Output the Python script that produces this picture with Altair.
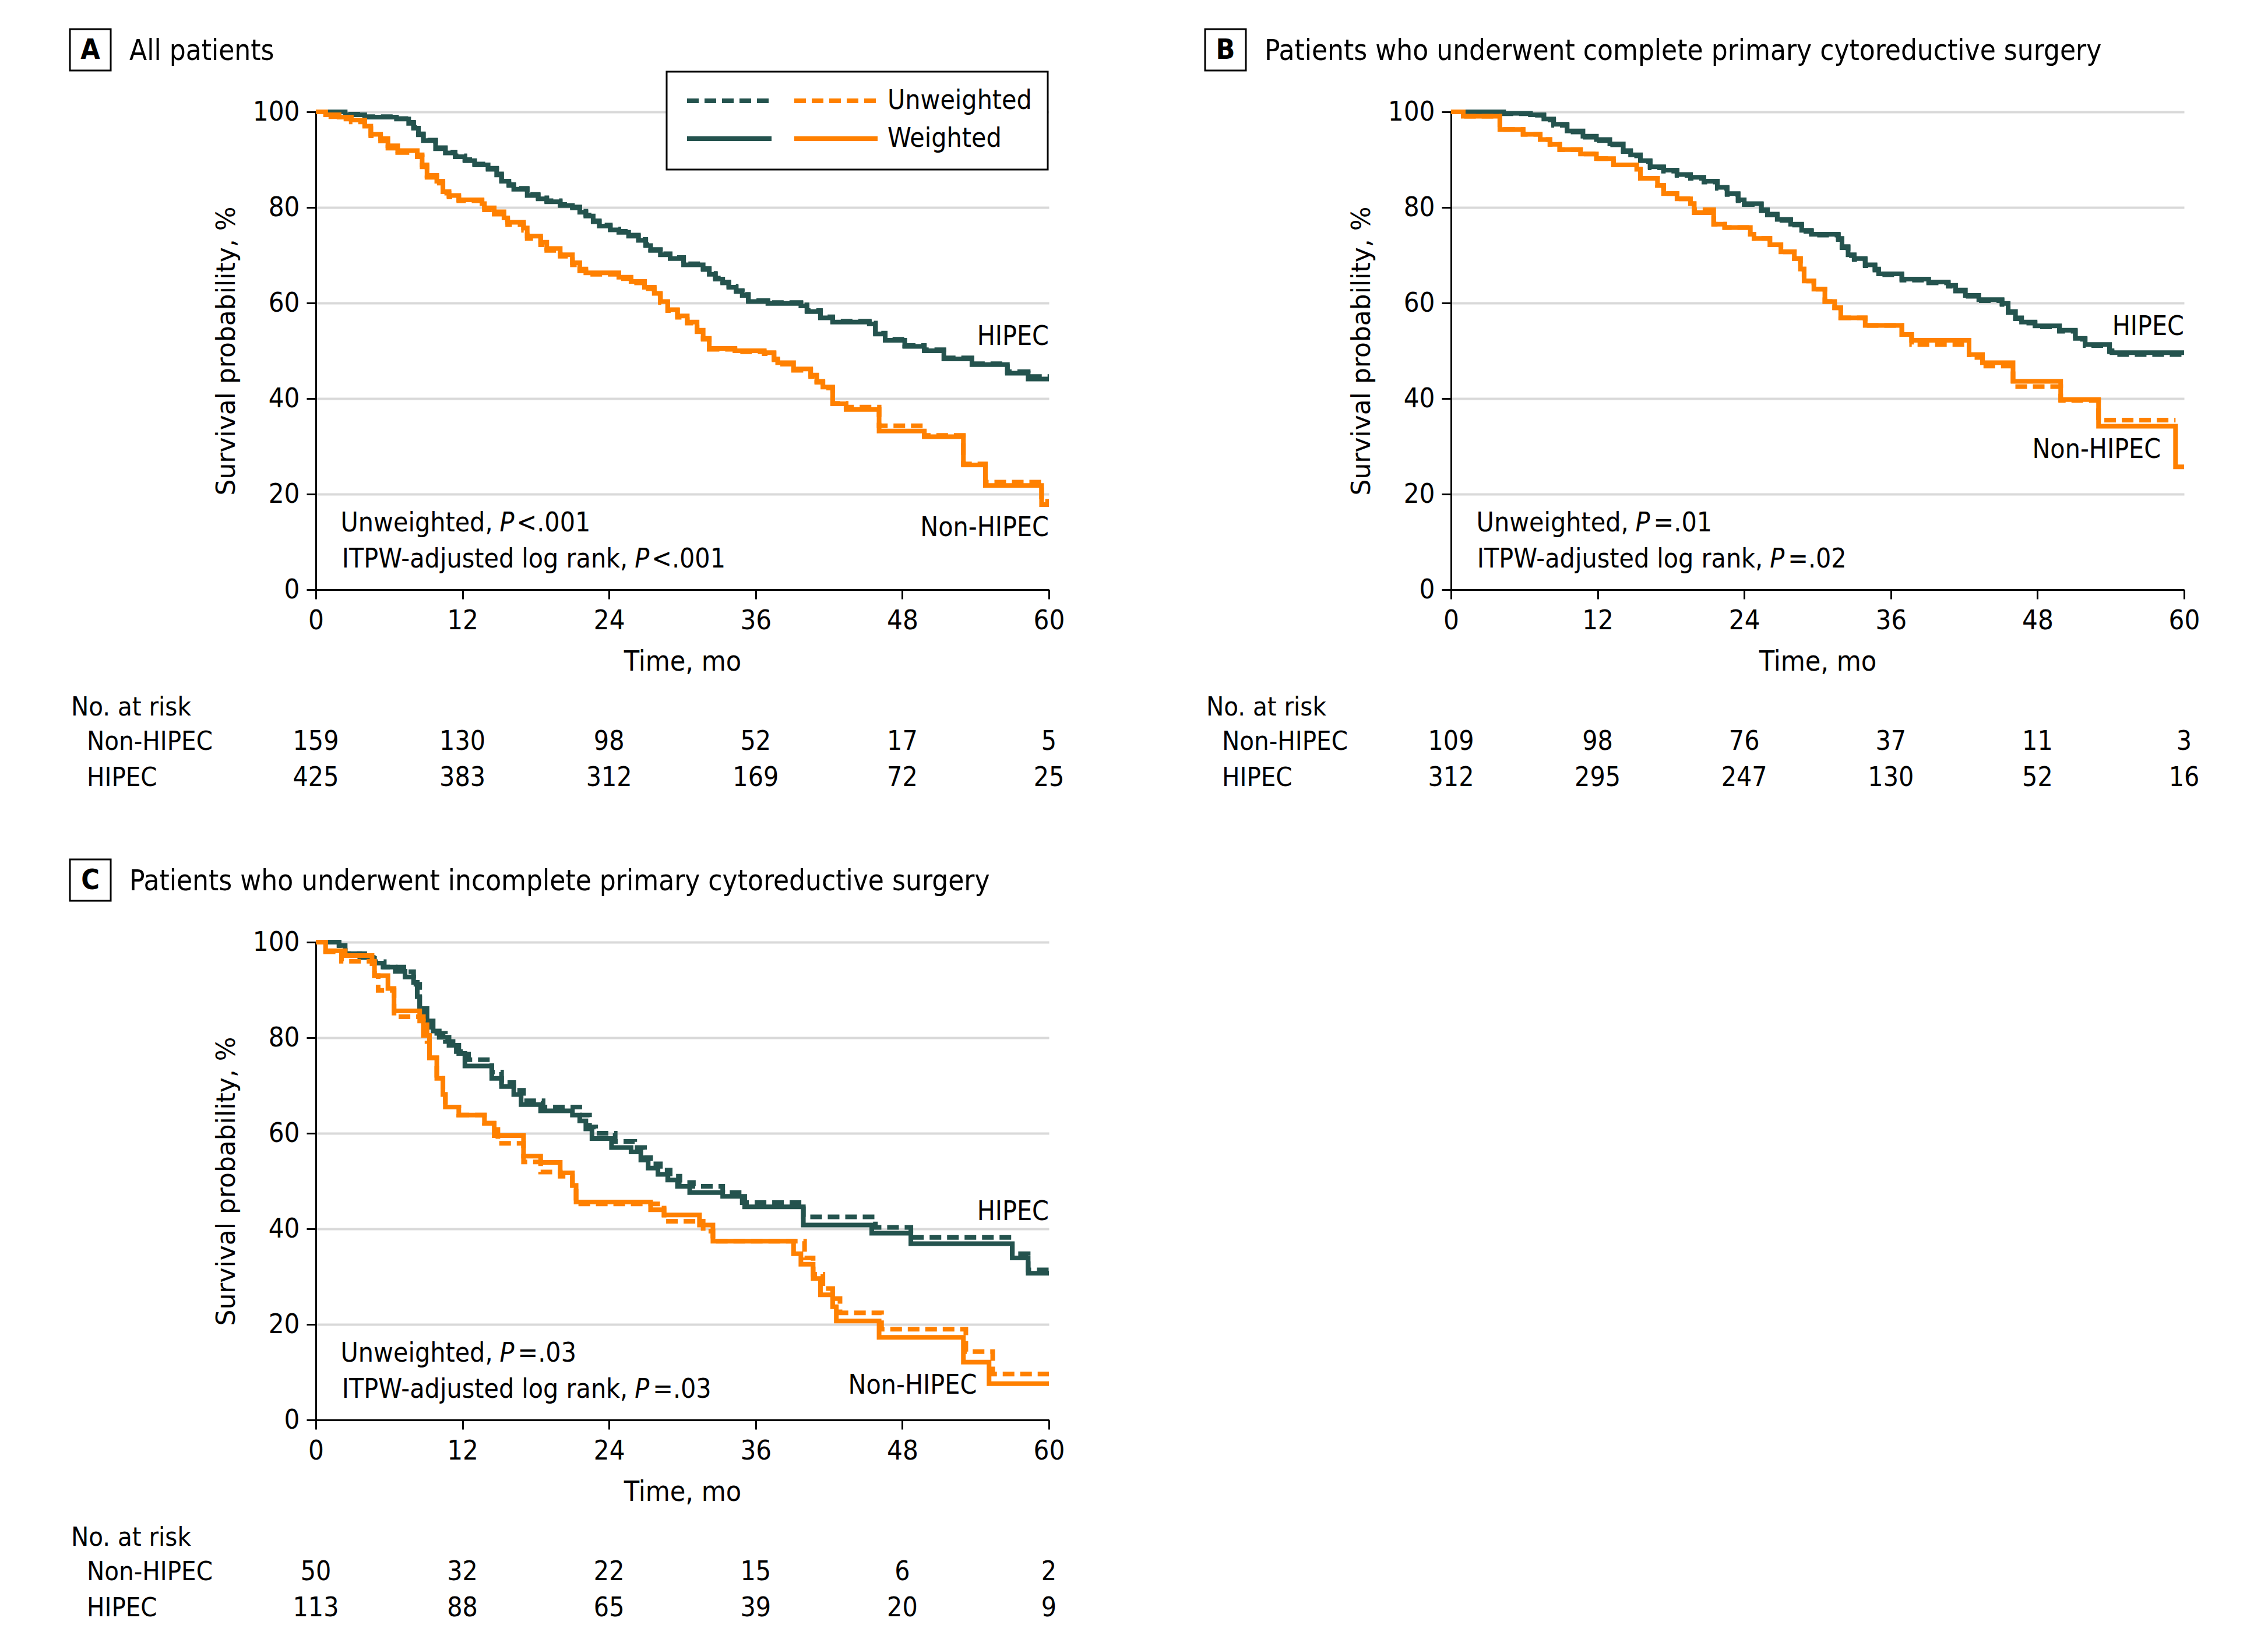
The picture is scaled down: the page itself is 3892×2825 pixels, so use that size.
import altair as alt
import pandas as pd

FONT = "DejaVu Sans Condensed"
YT_FONT = "DejaVu Sans"
TEAL = "#24534e"
ORANGE = "#ff8000"
W, H = 1258, 820
DASH = [20, 10]
LW = 8
X_TICKS = [0, 12, 24, 36, 48, 60]
Y_TICKS = [0, 20, 40, 60, 80, 100]

# ---------------- Panel A: all patients ----------------
a_hip_w_t = [0, 2.4, 4.0, 6.6, 7.6, 8.0, 8.4, 8.8, 9.8, 10.6, 11.4, 12.2, 13.0, 14.1, 14.8, 15.2, 15.8, 16.2, 17.3, 18.2, 18.9, 20.0, 21.0, 21.6, 22.1, 22.7, 23.2, 24.1, 24.8, 25.6, 26.4, 27.0, 27.4, 28.2, 29.0, 30.1, 31.7, 32.2, 32.7, 33.3, 33.8, 34.4, 34.9, 35.4, 37.0, 39.7, 40.2, 41.3, 42.3, 45.3, 45.8, 46.6, 48.2, 49.8, 51.4, 53.7, 56.6, 58.3, 60]
a_hip_w_s = [100, 99.4, 98.9, 98.5, 97.6, 96.6, 95.2, 94.0, 92.3, 91.4, 90.6, 89.8, 88.9, 88.0, 86.8, 85.5, 84.6, 83.8, 82.5, 81.8, 81.2, 80.4, 79.9, 79.0, 78.2, 77.0, 76.1, 75.3, 74.8, 74.0, 73.1, 72.0, 71.0, 70.1, 69.3, 68.0, 67.0, 66.0, 65.0, 64.2, 63.3, 62.4, 61.6, 60.3, 59.9, 59.4, 58.2, 56.9, 56.0, 55.6, 53.5, 52.2, 50.9, 50.0, 48.3, 47.1, 45.3, 44.1, 44.1]
a_hip_u_t = [0, 2.4, 4.0, 6.6, 7.6, 8.0, 8.4, 8.8, 9.8, 10.6, 11.4, 12.2, 13.0, 14.1, 14.8, 15.2, 15.8, 16.2, 17.3, 18.2, 18.9, 20.0, 21.0, 21.6, 22.1, 22.7, 23.2, 24.1, 24.8, 25.6, 26.4, 27.0, 27.4, 28.2, 29.0, 30.1, 31.7, 32.2, 32.7, 33.3, 33.8, 34.4, 34.9, 35.4, 37.0, 39.7, 40.2, 41.3, 42.3, 45.3, 45.8, 46.6, 48.2, 49.8, 51.4, 53.7, 56.6, 58.3, 60]
a_hip_u_s = [100, 99.5, 99.0, 98.6, 97.8, 96.8, 95.4, 94.1, 92.5, 91.6, 90.8, 90.0, 89.1, 88.2, 87.0, 85.7, 84.8, 84.0, 82.7, 82.0, 81.4, 80.6, 80.1, 79.2, 78.4, 77.2, 76.3, 75.5, 75.0, 74.2, 73.3, 72.2, 71.2, 70.3, 69.5, 68.2, 67.2, 66.2, 65.2, 64.4, 63.5, 62.6, 61.8, 60.5, 60.1, 59.6, 58.4, 57.1, 56.2, 55.8, 53.7, 52.4, 51.1, 50.2, 48.5, 47.3, 45.6, 44.6, 44.6]
a_non_w_t = [0, 0.8, 1.9, 2.9, 4.0, 4.5, 5.3, 5.9, 6.7, 8.3, 8.7, 9.1, 9.9, 10.4, 10.9, 11.7, 13.6, 13.8, 14.6, 15.4, 15.7, 17.0, 17.3, 18.4, 18.9, 20.0, 21.0, 21.6, 22.1, 24.8, 25.8, 26.9, 27.7, 28.2, 28.8, 29.6, 30.4, 31.2, 31.7, 32.2, 34.3, 36.7, 37.5, 37.8, 39.1, 40.5, 41.0, 41.5, 42.3, 43.4, 46.1, 49.8, 53.0, 54.8, 59.4, 60]
a_non_w_s = [100, 99.4, 98.9, 98.3, 97.0, 95.3, 94.4, 92.9, 91.9, 91.0, 88.9, 86.7, 85.5, 83.3, 82.5, 81.6, 80.8, 79.9, 79.1, 77.8, 76.9, 75.7, 74.0, 72.7, 71.4, 70.1, 68.4, 67.1, 66.3, 65.4, 64.5, 63.3, 62.0, 60.3, 58.6, 57.3, 56.0, 54.3, 52.6, 50.5, 50.0, 49.6, 48.3, 47.5, 46.2, 44.9, 43.6, 42.4, 38.9, 37.7, 33.2, 32.0, 26.1, 21.8, 17.8, 17.8]
a_non_u_t = [0, 0.8, 1.9, 2.9, 4.0, 4.5, 5.3, 5.9, 6.7, 8.3, 8.7, 9.1, 9.9, 10.4, 10.9, 11.7, 13.6, 13.8, 14.6, 15.4, 15.7, 17.0, 17.3, 18.4, 18.9, 20.0, 21.0, 21.6, 22.1, 24.8, 25.8, 26.9, 27.7, 28.2, 28.8, 29.6, 30.4, 31.2, 31.7, 32.2, 34.3, 36.7, 37.5, 37.8, 39.1, 40.5, 41.0, 41.5, 42.3, 43.4, 46.1, 49.8, 53.0, 54.8, 59.4, 60]
a_non_u_s = [100, 99.0, 98.5, 97.9, 96.5, 95.0, 93.9, 92.4, 91.5, 90.6, 88.5, 86.3, 85.1, 83.0, 82.2, 81.4, 80.6, 79.5, 78.6, 77.4, 76.4, 75.2, 73.5, 72.2, 71.0, 69.8, 68.0, 66.7, 66.0, 65.1, 64.2, 63.0, 61.8, 60.1, 58.4, 57.0, 55.8, 54.0, 52.4, 50.3, 49.8, 49.4, 48.1, 47.2, 45.9, 44.6, 43.4, 42.2, 39.0, 38.2, 34.3, 32.3, 26.3, 22.5, 18.5, 18.5]
a_risk_non = [159, 130, 98, 52, 17, 5]
a_risk_hip = [425, 383, 312, 169, 72, 25]

# ---------------- Panel B: complete surgery ----------------
b_hip_w_t = [0, 4.3, 6.5, 7.6, 8.4, 9.5, 10.8, 11.9, 13.0, 14.1, 14.7, 15.5, 16.3, 17.4, 18.5, 19.6, 20.7, 21.8, 22.6, 23.5, 24.0, 25.4, 25.9, 26.7, 27.8, 28.7, 29.5, 31.7, 32.0, 32.5, 33.0, 33.9, 34.7, 35.0, 36.9, 39.1, 40.7, 41.3, 42.1, 43.2, 45.1, 45.6, 46.2, 46.7, 47.8, 49.8, 51.1, 51.9, 53.9, 54.1, 60]
b_hip_w_s = [100, 99.7, 99.4, 98.5, 97.4, 96.0, 94.9, 94.2, 93.3, 91.9, 91.0, 89.8, 88.5, 87.8, 86.9, 86.3, 85.5, 84.2, 82.9, 81.6, 80.8, 79.5, 78.6, 77.5, 76.5, 75.2, 74.4, 73.5, 71.8, 70.1, 69.3, 68.0, 67.1, 66.1, 65.0, 64.4, 63.7, 62.7, 61.6, 60.7, 59.9, 58.2, 56.9, 56.0, 55.2, 54.3, 52.6, 51.3, 50.0, 49.6, 49.6]
b_hip_u_t = [0, 4.3, 6.5, 7.6, 8.4, 9.5, 10.8, 11.9, 13.0, 14.1, 14.7, 15.5, 16.3, 17.4, 18.5, 19.6, 20.7, 21.8, 22.6, 23.5, 24.0, 25.4, 25.9, 26.7, 27.8, 28.7, 29.5, 31.7, 32.0, 32.5, 33.0, 33.9, 34.7, 35.0, 36.9, 39.1, 40.7, 41.3, 42.1, 43.2, 45.1, 45.6, 46.2, 46.7, 47.8, 49.8, 51.1, 51.9, 53.9, 54.1, 60]
b_hip_u_s = [100, 99.6, 99.3, 98.3, 97.2, 95.8, 94.7, 94.0, 93.1, 91.7, 90.8, 89.6, 88.3, 87.6, 86.7, 86.1, 85.3, 84.0, 82.7, 81.4, 80.6, 79.3, 78.4, 77.3, 76.3, 75.0, 74.2, 73.3, 71.6, 69.9, 69.1, 67.8, 66.9, 65.9, 64.8, 64.2, 63.5, 62.5, 61.4, 60.5, 59.7, 58.0, 56.7, 55.8, 55.0, 54.1, 52.4, 51.1, 49.8, 49.2, 49.2]
b_non_w_t = [0, 1.0, 4.0, 5.9, 7.3, 8.1, 8.9, 10.6, 11.9, 13.3, 15.2, 15.5, 16.9, 17.4, 18.5, 19.6, 19.9, 21.5, 22.4, 24.5, 24.8, 26.1, 27.0, 28.1, 28.6, 28.9, 29.7, 30.6, 31.4, 31.9, 33.9, 36.9, 37.7, 42.4, 43.5, 46.0, 49.9, 53.0, 59.3, 60]
b_non_w_s = [100, 99.1, 96.3, 95.3, 94.2, 93.2, 92.1, 91.2, 90.2, 88.9, 88.0, 86.1, 84.6, 82.9, 81.8, 80.8, 78.9, 76.5, 75.8, 74.4, 73.5, 72.2, 70.7, 69.3, 67.1, 64.6, 62.9, 60.3, 59.0, 56.9, 55.3, 53.4, 52.2, 49.2, 47.5, 43.6, 39.8, 34.2, 25.7, 25.7]
b_non_u_t = [0, 1.0, 4.0, 5.9, 7.3, 8.1, 8.9, 10.6, 11.9, 13.3, 15.2, 15.5, 16.9, 17.4, 18.5, 19.6, 19.9, 21.5, 22.4, 24.5, 24.8, 26.1, 27.0, 28.1, 28.6, 28.9, 29.7, 30.6, 31.4, 31.9, 33.9, 36.9, 37.7, 42.4, 43.5, 46.0, 49.9, 53.0, 59.3]
b_non_u_s = [100, 99.1, 96.3, 95.3, 94.2, 93.2, 92.1, 91.2, 90.2, 88.9, 88.0, 86.1, 84.6, 82.9, 81.8, 80.8, 79.5, 76.5, 75.8, 74.4, 73.5, 72.2, 70.7, 69.3, 67.1, 64.6, 62.9, 60.3, 59.0, 56.9, 55.3, 53.4, 51.3, 48.6, 46.8, 42.5, 39.6, 35.5, 35.5]
b_risk_non = [109, 98, 76, 37, 11, 3]
b_risk_hip = [312, 295, 247, 130, 52, 16]

# ---------------- Panel C: incomplete surgery ----------------
c_hip_w_t = [0, 1.9, 2.4, 3.6, 4.7, 5.5, 6.5, 7.3, 8.0, 8.3, 8.5, 9.1, 9.6, 10.1, 10.9, 11.7, 12.2, 14.4, 15.2, 16.2, 16.8, 18.4, 21.0, 21.6, 22.1, 22.6, 24.2, 25.8, 26.6, 27.2, 28.0, 28.8, 29.6, 30.6, 33.3, 35.1, 39.9, 45.5, 48.7, 57.0, 58.3, 60]
c_hip_w_s = [100, 99.3, 97.6, 96.8, 95.6, 94.8, 93.9, 92.7, 91.6, 88.6, 86.1, 83.5, 81.4, 80.1, 78.4, 76.7, 74.1, 71.5, 69.8, 68.1, 66.0, 64.7, 63.8, 62.6, 60.9, 58.9, 57.0, 56.1, 54.4, 52.7, 51.4, 50.2, 48.9, 47.6, 46.8, 44.6, 40.8, 39.1, 36.9, 33.9, 30.7, 30.7]
c_hip_u_t = [0, 1.9, 2.4, 4.0, 4.8, 5.6, 7.2, 8.0, 8.5, 8.8, 9.3, 9.9, 10.6, 11.5, 12.5, 14.4, 15.2, 16.2, 17.0, 18.6, 21.6, 22.4, 22.9, 24.5, 26.1, 26.9, 27.4, 28.2, 29.0, 29.8, 30.9, 33.3, 34.9, 39.9, 45.8, 48.7, 57.0, 58.3, 60]
c_hip_u_s = [100, 99.3, 97.6, 96.6, 95.9, 94.8, 93.8, 91.2, 86.5, 84.4, 82.2, 80.9, 79.2, 77.1, 75.4, 72.8, 70.6, 69.0, 66.8, 65.5, 63.8, 61.3, 60.0, 58.3, 57.0, 54.9, 53.6, 52.3, 51.0, 49.7, 48.9, 47.6, 45.5, 42.5, 40.3, 38.2, 34.8, 31.4, 31.4]
c_non_w_t = [0, 0.8, 2.4, 4.6, 4.8, 5.9, 6.4, 8.5, 8.8, 9.3, 9.9, 10.4, 10.6, 11.7, 13.8, 14.6, 17.0, 18.4, 20.0, 21.0, 21.3, 27.4, 28.5, 31.4, 32.5, 39.1, 39.7, 40.7, 41.3, 42.3, 42.6, 46.1, 53.0, 55.1, 60]
c_non_w_s = [100, 98.2, 97.2, 95.5, 93.0, 90.3, 85.6, 83.5, 80.5, 75.8, 71.5, 68.1, 65.5, 63.8, 62.1, 59.5, 55.2, 53.9, 51.7, 49.1, 45.6, 44.0, 42.9, 40.8, 37.4, 34.8, 32.6, 29.6, 26.2, 23.7, 20.7, 17.3, 12.1, 7.6, 7.6]
c_non_u_t = [0, 0.8, 2.1, 4.8, 5.1, 6.4, 8.8, 9.1, 9.3, 9.9, 10.4, 10.6, 11.7, 13.8, 14.9, 17.0, 18.4, 20.0, 21.0, 21.3, 28.5, 31.7, 32.5, 40.0, 40.7, 41.5, 42.3, 42.9, 46.3, 53.2, 55.4, 60]
c_non_u_s = [100, 98.0, 96.0, 93.0, 89.9, 84.4, 82.7, 79.2, 75.8, 71.5, 68.1, 65.5, 63.8, 62.1, 57.9, 54.0, 51.9, 51.0, 49.1, 45.2, 41.6, 39.5, 37.4, 33.9, 30.5, 27.5, 25.4, 22.4, 19.0, 14.3, 9.6, 9.6]
c_risk_non = [50, 32, 22, 15, 6, 2]
c_risk_hip = [113, 88, 65, 39, 20, 9]

ONE = pd.DataFrame({"k": [0]})


def xenc():
    return alt.X("t:Q", scale=alt.Scale(domain=[0, 60], nice=False, zero=False),
                 axis=alt.Axis(values=X_TICKS, title="Time, mo", grid=False,
                               labelFlush=False, labelOverlap=False))


def yenc():
    return alt.Y("s:Q", scale=alt.Scale(domain=[0, 100], nice=False, zero=True),
                 axis=alt.Axis(values=Y_TICKS, title="Survival probability, %", grid=True,
                               labelOverlap=False))


def curve(t, s, color, dashed):
    df = pd.DataFrame({"t": t, "s": s})
    kw = dict(interpolate="step-after", strokeWidth=LW, color=color)
    if dashed:
        kw["strokeDash"] = DASH
    return alt.Chart(df).mark_line(**kw).encode(x=xenc(), y=yenc())


def dtext(t, s, label, align="left", dx=0, italic=False, size=46):
    df = pd.DataFrame({"t": [t], "s": [s], "label": [label]})
    kw = dict(align=align, baseline="middle", dx=dx, font=FONT, fontSize=size, color="black")
    if italic:
        kw["fontStyle"] = "italic"
    return alt.Chart(df).mark_text(**kw).encode(x=xenc(), y=yenc(), text="label:N")


def ptext(x, y, label, align="left", size=46, weight="normal", font=FONT):
    return alt.Chart(ONE).mark_text(text=label, align=align, baseline="middle", font=font,
                                    fontSize=size, fontWeight=weight, color="black").encode(
        x=alt.value(x), y=alt.value(y))


def risk_row(counts, y):
    df = pd.DataFrame({"t": X_TICKS, "n": counts})
    return alt.Chart(df).mark_text(align="center", baseline="middle", font=FONT, fontSize=46,
                                   color="black").encode(x=xenc(), y=alt.value(y), text="n:Q")


def pvalue(tp, s, prefix, rest, rest_dx):
    return [dtext(tp, s, prefix, align="right", dx=-12),
            dtext(tp, s, "P", italic=True),
            dtext(tp, s, rest, dx=rest_dx)]


def panel(letter, title, curves, risk_non, risk_hip, texts, extra=None):
    layers = []
    layers += curves
    layers.append(alt.Chart(ONE).mark_rect(fill="white", stroke="black", strokeWidth=3).encode(
        x=alt.value(-422), x2=alt.value(-352), y=alt.value(-142), y2=alt.value(-71)))
    layers.append(ptext(-387, -105, letter, align="center", size=48, weight="bold"))
    layers.append(ptext(-320, -104, title, size=49))
    layers += texts
    layers.append(ptext(-420, 1022, "No. at risk", size=45))
    layers.append(ptext(-393, 1081, "Non-HIPEC", size=45))
    layers.append(ptext(-393, 1143, "HIPEC", size=45))
    layers.append(risk_row(risk_non, 1081))
    layers.append(risk_row(risk_hip, 1143))
    if extra:
        layers += extra
    return alt.layer(*layers).properties(width=W, height=H)


# legend for panel A (pixel layout)
legend = [
    alt.Chart(ONE).mark_rect(fill="white", stroke="black", strokeWidth=3).encode(
        x=alt.value(602), x2=alt.value(1256), y=alt.value(-69), y2=alt.value(99)),
    alt.Chart(ONE).mark_rule(color=TEAL, strokeWidth=LW, strokeDash=DASH).encode(
        x=alt.value(637), x2=alt.value(782), y=alt.value(-19)),
    alt.Chart(ONE).mark_rule(color=ORANGE, strokeWidth=LW, strokeDash=DASH).encode(
        x=alt.value(821), x2=alt.value(964), y=alt.value(-19)),
    alt.Chart(ONE).mark_rule(color=TEAL, strokeWidth=LW).encode(
        x=alt.value(637), x2=alt.value(782), y=alt.value(46)),
    alt.Chart(ONE).mark_rule(color=ORANGE, strokeWidth=LW).encode(
        x=alt.value(821), x2=alt.value(964), y=alt.value(46)),
    ptext(981, -19, "Unweighted"),
    ptext(981, 46, "Weighted"),
]

A = panel(
    "A", "All patients",
    [curve(a_hip_u_t, a_hip_u_s, TEAL, True), curve(a_hip_w_t, a_hip_w_s, TEAL, False),
     curve(a_non_u_t, a_non_u_s, ORANGE, True), curve(a_non_w_t, a_non_w_s, ORANGE, False)],
    a_risk_non, a_risk_hip,
    [dtext(60, 52.9, "HIPEC", align="right"), dtext(60, 12.9, "Non-HIPEC", align="right")]
    + pvalue(15.05, 13.9, "Unweighted,", "<.001", 29)
    + pvalue(26.1, 6.3, "ITPW-adjusted log rank,", "<.001", 29),
    extra=legend,
)

B = panel(
    "B", "Patients who underwent complete primary cytoreductive surgery",
    [curve(b_hip_u_t, b_hip_u_s, TEAL, True), curve(b_hip_w_t, b_hip_w_s, TEAL, False),
     curve(b_non_u_t, b_non_u_s, ORANGE, True), curve(b_non_w_t, b_non_w_s, ORANGE, False)],
    b_risk_non, b_risk_hip,
    [dtext(60, 55.0, "HIPEC", align="right"), dtext(58.1, 29.3, "Non-HIPEC", align="right")]
    + pvalue(15.1, 13.9, "Unweighted,", "=.01", 31)
    + pvalue(26.1, 6.3, "ITPW-adjusted log rank,", "=.02", 31),
)

C = panel(
    "C", "Patients who underwent incomplete primary cytoreductive surgery",
    [curve(c_hip_u_t, c_hip_u_s, TEAL, True), curve(c_hip_w_t, c_hip_w_s, TEAL, False),
     curve(c_non_u_t, c_non_u_s, ORANGE, True), curve(c_non_w_t, c_non_w_s, ORANGE, False)],
    c_risk_non, c_risk_hip,
    [dtext(60, 43.5, "HIPEC", align="right"), dtext(54.1, 7.2, "Non-HIPEC", align="right")]
    + pvalue(15.05, 13.9, "Unweighted,", "=.03", 31)
    + pvalue(26.1, 6.3, "ITPW-adjusted log rank,", "=.03", 31),
)

chart = alt.concat(A, B, C, columns=2, spacing={"row": 605, "column": 690}, bounds="flush").properties(
    padding={"left": 110, "top": 40, "right": 30, "bottom": 30}
).configure_view(strokeWidth=0).configure_axis(
    domainColor="black", domainWidth=3, tickColor="black", tickWidth=3, tickSize=16,
    labelFont=FONT, labelFontSize=47, labelColor="black",
    titleColor="black", titleFontWeight="normal",
    gridColor="#d9d9d9", gridWidth=4,
).configure_axisX(
    labelPadding=14, titlePadding=24, titleFont=FONT, titleFontSize=48,
).configure_axisY(
    labelPadding=12, titlePadding=22, titleFont=YT_FONT, titleFontSize=44,
)

chart.save("out.html", embed_options={"renderer": "svg", "actions": False})
